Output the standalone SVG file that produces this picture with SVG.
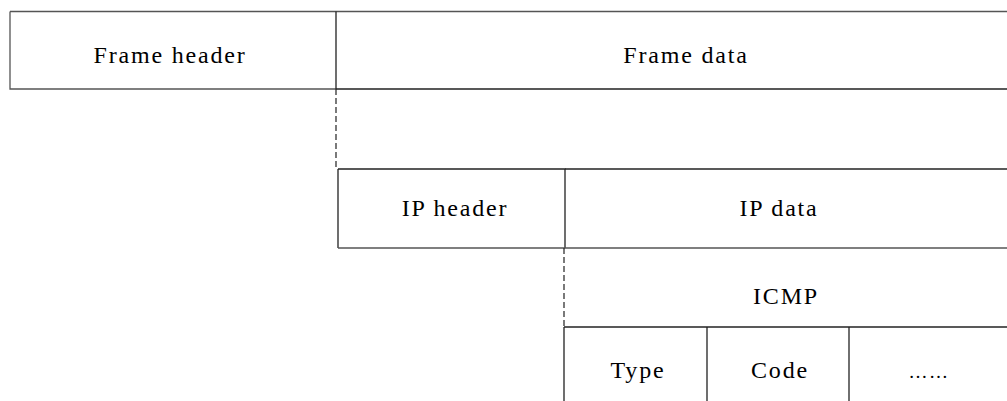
<svg xmlns="http://www.w3.org/2000/svg" width="1007" height="401" viewBox="0 0 1007 401">
  <style>
    .box { fill: none; stroke: #222; stroke-width: 1.3; }
    .soft { fill: none; stroke: #555; stroke-width: 1.3; }
    .link { fill: none; stroke: #222; stroke-width: 1.2; stroke-dasharray: 6 3; }
    .lbl { font-family: "Liberation Serif", "Times New Roman", serif; font-size: 24px; letter-spacing: 1.8px; fill: #000; text-anchor: middle; }
  </style>
  <rect width="1007" height="401" fill="#fff"/>

  <!-- link layer: frame header -->
  <g id="frame-header">
    <path class="soft" d="M10,11.5 H336 M10,11.5 V89 H336"/>
    <text class="lbl" x="170" y="63">Frame header</text>
  </g>
  <g id="frame-data">
    <path class="soft" d="M336,11.5 H1007"/>
    <path class="box" d="M336,11.5 V89 M336,89 H1007"/>
    <text class="lbl" x="686" y="63">Frame data</text>
  </g>

  <!-- network layer -->
  <g id="ip-header">
    <path class="box" d="M338,169 H565 V248 M338,169 V248"/>
    <path class="soft" d="M338,248 H565"/>
    <text class="lbl" x="455" y="216">IP header</text>
  </g>
  <g id="ip-data">
    <path class="box" d="M565,169 H1007"/>
    <path class="soft" d="M565,248 H1007"/>
    <text class="lbl" x="779" y="216">IP data</text>
  </g>

  <!-- ICMP message -->
  <g id="icmp">
    <path class="box" d="M564,327 H1007"/>
    <text class="lbl" x="786" y="304">ICMP</text>
  </g>
  <g id="icmp-type">
    <path class="box" d="M564,327 V401 M707,327 V401"/>
    <text class="lbl" x="638" y="378">Type</text>
  </g>
  <g id="icmp-code">
    <path class="box" d="M849,327 V401"/>
    <text class="lbl" x="780" y="378">Code</text>
  </g>
  <g id="icmp-rest">
    <text class="lbl" x="929" y="378" style="font-size:19px;letter-spacing:1.5px">……</text>
  </g>

  <!-- encapsulation guides -->
  <g id="connectors">
    <path class="link" d="M336,89 V169"/>
    <path class="link" d="M564,248 V327"/>
  </g>
</svg>
